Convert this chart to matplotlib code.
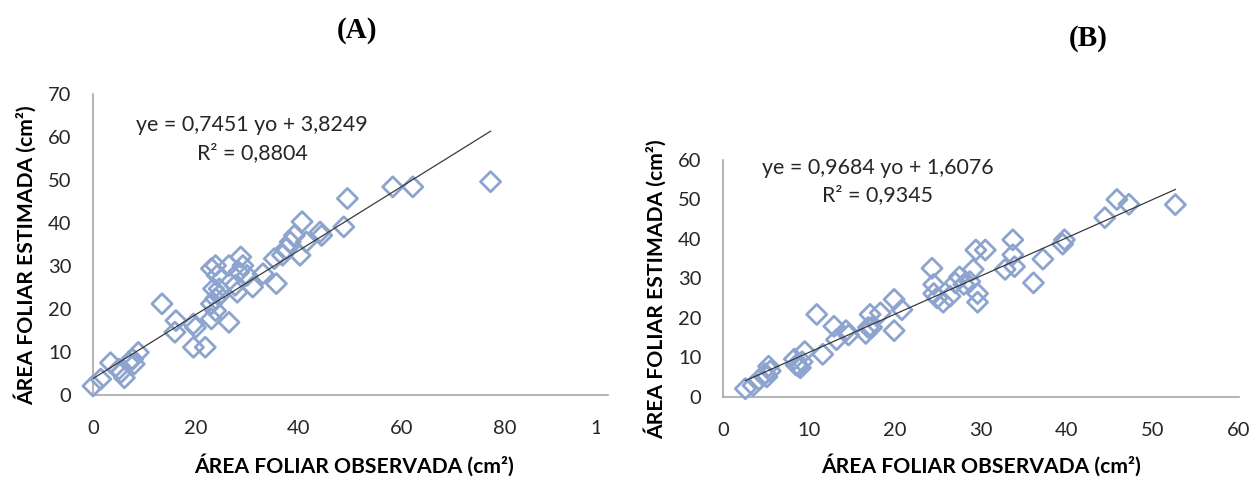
import matplotlib
matplotlib.use("Agg")
import matplotlib.pyplot as plt
import numpy as np
from matplotlib.transforms import Bbox, TransformedBbox

# ---------------- data ----------------
obs_a = [0.0, 1.5, 3.4, 5.0, 5.4, 6.1, 6.9, 7.7, 8.8, 8.0, 13.4, 16.1, 15.9, 19.5, 19.5,
         21.8, 19.9, 23.0, 23.0, 23.8, 23.4, 23.0, 23.8, 24.5, 24.1, 24.5, 23.8, 26.4,
         26.4, 27.6, 28.0, 28.3, 28.7, 29.1, 29.9, 31.0, 33.0, 35.6, 35.2, 36.8, 37.5,
         38.3, 39.1, 40.6, 40.2, 41.4, 44.1, 44.4, 48.7, 49.4, 58.2, 62.1, 77.2]
est_a = [2.1, 3.7, 7.5, 6.0, 5.2, 4.0, 7.6, 8.3, 9.9, 7.2, 21.2, 17.3, 14.6, 16.5, 11.1,
         11.1, 15.7, 17.7, 21.2, 22.4, 24.7, 29.4, 30.1, 24.7, 27.8, 23.1, 19.6, 16.9,
         30.1, 25.5, 23.9, 28.6, 32.1, 30.1, 27.8, 25.1, 28.2, 25.9, 31.7, 32.5, 34.0,
         35.6, 37.1, 40.3, 32.5, 35.6, 37.9, 37.1, 39.1, 45.7, 48.4, 48.4, 49.6]
slope_a, inter_a = 0.7451, 3.8249
eq_a = ["ye = 0,7451 yo + 3,8249", "R² = 0,8804"]

obs_b = [2.6, 3.5, 4.2, 4.9, 5.3, 5.1, 5.5, 8.3, 8.5, 8.8, 9.0, 9.5, 9.2, 10.9, 11.6,
         12.9, 13.2, 14.3, 14.6, 16.6, 16.9, 17.1, 17.3, 18.3, 19.9, 19.9, 20.8, 24.3,
         24.5, 24.5, 24.9, 25.6, 26.4, 27.0, 27.5, 28.0, 28.7, 29.1, 29.4, 29.6, 29.6,
         30.5, 32.8, 33.7, 33.7, 33.9, 36.1, 37.2, 39.5, 39.7, 44.4, 45.8, 47.2, 52.6]
est_b = [2.1, 2.9, 4.4, 5.9, 7.8, 5.1, 6.6, 9.6, 8.1, 7.8, 7.4, 11.5, 8.9, 20.9, 10.8,
         17.9, 14.5, 16.8, 15.7, 16.1, 17.6, 20.9, 17.6, 21.3, 16.8, 24.7, 22.1, 32.6,
         28.5, 26.2, 25.1, 24.0, 25.5, 28.9, 30.4, 28.5, 29.2, 32.3, 37.2, 26.2, 24.0,
         37.2, 32.3, 39.8, 36.0, 33.0, 28.9, 34.9, 38.7, 39.8, 45.4, 50.0, 48.8, 48.7]
slope_b, inter_b = 0.9684, 1.6076
eq_b = ["ye = 0,9684 yo + 1,6076", "R² = 0,9345"]

xticks_a = [0, 20, 40, 60, 80, 100]
yticks_a = [0, 10, 20, 30, 40, 50, 60, 70]
xticks_b = [0, 10, 20, 30, 40, 50, 60]
yticks_b = [0, 10, 20, 30, 40, 50, 60]

xlabel = "ÁREA FOLIAR OBSERVADA (cm²)"
ylabel = "ÁREA FOLIAR ESTIMADA (cm²)"

# ---------------- style ----------------
W, H = 1255, 480
FONT = ["Lato", "DejaVu Sans"]
SERIF = ["Liberation Serif", "DejaVu Serif"]
MK_COLOR = "#8DA4CF"
SPINE = "#A6A6A6"
TXT = "#262626"

fig = plt.figure(figsize=(W / 100, H / 100), dpi=100)


def px_rect(left, top, right, bottom):
    return [left / W, 1 - bottom / H, (right - left) / W, (bottom - top) / H]


def style_axes(ax, xt, yt, xmax, ymax):
    ax.set_xlim(0, xmax)
    ax.set_ylim(0, ymax)
    ax.set_xticks(xt)
    ax.set_yticks(yt)
    for s in ["top", "right"]:
        ax.spines[s].set_visible(False)
    for s in ["left", "bottom"]:
        ax.spines[s].set_color(SPINE)
        ax.spines[s].set_linewidth(1.2)
    ax.tick_params(length=0, labelsize=14.5, colors=TXT)
    ax.tick_params(axis="x", pad=18)
    ax.tick_params(axis="y", pad=15.5)
    for lab in ax.get_xticklabels() + ax.get_yticklabels():
        lab.set_fontfamily(FONT)


def draw_panel(ax, xo, ye, slope, inter):
    ax.scatter(xo, ye, marker="D", s=105, facecolors="none", edgecolors=MK_COLOR,
               linewidths=2.0, zorder=3, clip_on=False)
    xs = np.array([min(xo), max(xo)])
    ax.plot(xs, slope * xs + inter, color="#3A3A3A", lw=0.9, zorder=4)


# Panel A
axA = fig.add_axes(px_rect(93, 94, 608, 395))
style_axes(axA, xticks_a, yticks_a, 100, 70)
draw_panel(axA, obs_a, est_a, slope_a, inter_a)
# last x tick label ("100") is cut off in the reference
last = axA.xaxis.get_major_ticks()[-1].label1
last.set_clip_box(TransformedBbox(Bbox([[0, 0], [599.5 / W, 1]]), fig.transFigure))
last.set_clip_on(True)

# Panel B
axB = fig.add_axes(px_rect(723, 160, 1239, 397))
style_axes(axB, xticks_b, yticks_b, 60, 60)
draw_panel(axB, obs_b, est_b, slope_b, inter_b)


def ftext(x, y, s, **kw):
    return fig.text(x / W, 1 - y / H, s, ha="center", va="center", **kw)


# equations
for (cx, y1, y2), eq in (((252, 125, 153), eq_a), ((878, 168, 195), eq_b)):
    ftext(cx, y1, eq[0], fontsize=15.4, family=FONT, color=TXT)
    ftext(cx, y2, eq[1], fontsize=15.4, family=FONT, color=TXT)

# axis labels
for cx in (354, 981):
    ftext(cx, 465, xlabel, fontsize=15.2, fontweight="bold", family=FONT, color="black")
ftext(25, 255, ylabel, rotation=90, fontsize=15.2, fontweight="bold", family=FONT,
      color="black")
ftext(655, 289, ylabel, rotation=90, fontsize=15.2, fontweight="bold", family=FONT,
      color="black")

# panel titles
ftext(357, 31, "(A)", fontsize=21, fontweight="bold", family=SERIF)
ftext(1088, 38, "(B)", fontsize=21, fontweight="bold", family=SERIF)

fig.savefig("out.png", dpi=100)
